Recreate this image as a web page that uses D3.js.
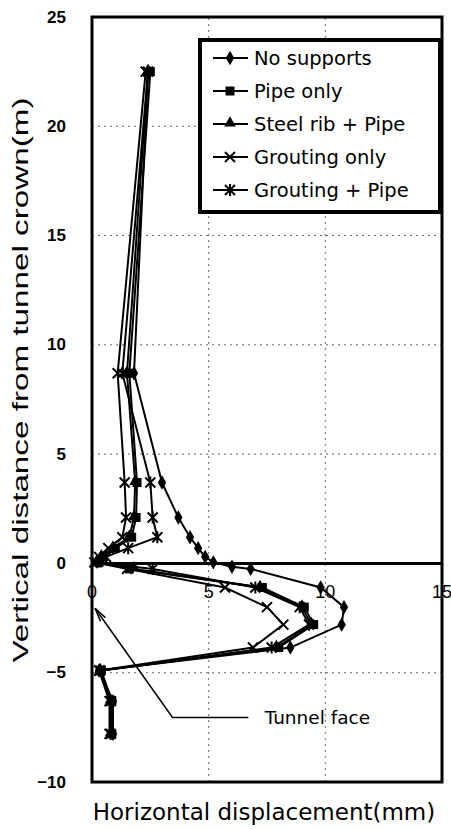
<!DOCTYPE html>
<html>
<head>
<meta charset="utf-8">
<script src="https://cdn.jsdelivr.net/npm/d3@7"></script>
<style>
  body { margin: 0; background: #fff; }
  svg { display: block; }
</style>
</head>
<body>
<div id="chart"></div>
<script>
// measurement depths (m from tunnel crown), shared by all series
let depth = [22.5, 8.7, 3.7, 2.1, 1.2, 0.7, 0.3, 0.05, -0.15, -0.25, -1.1, -2.0, -2.8, -3.85, -4.9, -6.3, -7.8]

// horizontal displacement (mm) per series, null = not measured
let noSupports   = [2.4, 1.8, 3.0, 3.7, 4.2, 4.55, 4.85, 5.2, 6.0, 6.8, 9.8, 10.8, 10.7, 8.5, 0.3, 0.9, 0.9]
let pipeOnly     = [2.5, 1.6, 1.93, 1.89, 1.7, 1.0, 0.5, 0.3, null, 1.6, 7.3, 9.1, 9.5, 8.0, 0.4, 0.85, 0.85]
let steelRibPipe = [2.4, 1.5, 1.85, 1.8, 1.6, 0.9, 0.4, 0.2, null, 1.8, 7.2, 9.0, 9.4, 7.9, 0.35, 0.8, 0.8]
let groutingOnly = [2.3, 1.1, 1.4, 1.46, 1.3, 0.7, 0.3, 0.1, null, 1.5, 5.7, 7.5, 8.2, 6.9, 0.3, 0.75, 0.75]
let groutingPipe = [2.4, 1.3, 2.5, 2.6, 2.8, 1.55, 0.6, 0.2, null, 2.6, 7.0, 8.9, 9.3, 7.7, 0.35, 0.8, 0.8]

let seriesNames = ['No supports', 'Pipe only', 'Steel rib + Pipe', 'Grouting only', 'Grouting + Pipe']
let seriesValues = [noSupports, pipeOnly, steelRibPipe, groutingOnly, groutingPipe]
let seriesMarkers = ['diamond', 'square', 'triangle', 'cross', 'asterisk']

let xTicks = [0, 5, 10, 15]
let yTicks = [-10, -5, 0, 5, 10, 15, 20, 25]

// tunnel face annotation (data units): arrow tip, elbow, end of leader
let faceArrow = [[0.13, -2.05], [3.45, -7.05], [6.7, -7.05]]
let faceLabel = 'Tunnel face'

let width = 451,
    height = 829

let svg = d3.select('#chart').append('svg')
    .attr('width', width)
    .attr('height', height)
    .style('background', '#fff')

let x = d3.scaleLinear().domain([0, 15]).range([92, 442])
let y = d3.scaleLinear().domain([-10, 25]).range([782, 17])

// dotted grid
svg.append('g').selectAll('line')
    .data(yTicks.filter(function(d){ return d != 0 && d != 25 && d != -10 }))
    .enter().append('line')
    .attr('x1', x(0)).attr('x2', x(15))
    .attr('y1', function(d){ return y(d) }).attr('y2', function(d){ return y(d) })
    .attr('stroke', '#666').attr('stroke-width', 1).attr('stroke-dasharray', '2,4')
svg.append('g').selectAll('line')
    .data([5, 10])
    .enter().append('line')
    .attr('y1', y(-10)).attr('y2', y(25))
    .attr('x1', function(d){ return x(d) }).attr('x2', function(d){ return x(d) })
    .attr('stroke', '#666').attr('stroke-width', 1).attr('stroke-dasharray', '2,4')

// y axis labels
svg.append('g').selectAll('text')
    .data(yTicks)
    .enter().append('text')
    .attr('x', 66)
    .attr('y', function(d){ return y(d) })
    .attr('text-anchor', 'end')
    .attr('dominant-baseline', 'central')
    .style('font-family', 'Liberation Sans, Arial, sans-serif')
    .style('font-size', '17px')
    .style('font-weight', 'bold')
    .text(function(d){ return d < 0 ? '\u2212' + Math.abs(d) : d })

// x tick labels sit inside the plot, under the zero line
svg.append('g').selectAll('text')
    .data(xTicks)
    .enter().append('text')
    .attr('x', function(d){ return x(d) })
    .attr('y', y(0) + 29)
    .attr('text-anchor', 'middle')
    .attr('dominant-baseline', 'central')
    .style('font-family', 'Liberation Sans, Arial, sans-serif')
    .style('font-size', '18px')
    .text(function(d){ return d })

// zero line
svg.append('line')
    .attr('x1', x(0)).attr('x2', x(15))
    .attr('y1', y(0)).attr('y2', y(0))
    .attr('stroke', '#000').attr('stroke-width', 3)

// marker shapes
function drawMarker(g, type, cx, cy) {
    if (type == 'diamond') {
        g.append('path').attr('d', d3.symbol().type(d3.symbolDiamond).size(60)())
            .attr('transform', 'translate(' + cx + ',' + cy + ')').attr('fill', '#000')
    } else if (type == 'square') {
        g.append('rect').attr('x', cx - 4.5).attr('y', cy - 4.5).attr('width', 9).attr('height', 9).attr('fill', '#000')
    } else if (type == 'triangle') {
        g.append('path').attr('d', d3.symbol().type(d3.symbolTriangle).size(60)())
            .attr('transform', 'translate(' + cx + ',' + (cy - 1) + ')').attr('fill', '#000')
    } else {
        let s = 5
        g.append('path')
            .attr('d', 'M' + (cx - s) + ',' + (cy - s) + 'L' + (cx + s) + ',' + (cy + s) +
                       'M' + (cx - s) + ',' + (cy + s) + 'L' + (cx + s) + ',' + (cy - s) +
                       (type == 'asterisk' ? 'M' + cx + ',' + (cy - s - 1) + 'L' + cx + ',' + (cy + s + 1) : ''))
            .attr('stroke', '#000').attr('stroke-width', 2).attr('fill', 'none')
    }
}

let line = d3.line()
    .x(function(d){ return x(d[0]) })
    .y(function(d){ return y(d[1]) })

seriesValues.forEach(function(vals, i){
    let pts = []
    vals.forEach(function(v, j){ if (v != null) pts.push([v, depth[j]]) })
    let g = svg.append('g')
    g.append('path')
        .attr('d', line(pts))
        .attr('fill', 'none')
        .attr('stroke', '#000')
        .attr('stroke-width', 2)
    pts.forEach(function(p){ drawMarker(g, seriesMarkers[i], x(p[0]), y(p[1])) })
})

// plot frame
svg.append('rect')
    .attr('x', x(0)).attr('y', y(25))
    .attr('width', x(15) - x(0)).attr('height', y(-10) - y(25))
    .attr('fill', 'none').attr('stroke', '#000').attr('stroke-width', 3)

// tunnel face annotation
svg.append('path')
    .attr('d', line(faceArrow))
    .attr('fill', 'none').attr('stroke', '#000').attr('stroke-width', 1.5)
let tip = faceArrow[0], elbow = faceArrow[1]
let ang = Math.atan2(y(elbow[1]) - y(tip[1]), x(elbow[0]) - x(tip[0]))
let ah = 14, aw = 0.22
svg.append('path')
    .attr('d', 'M' + (x(tip[0]) + ah * Math.cos(ang - aw)) + ',' + (y(tip[1]) + ah * Math.sin(ang - aw)) +
               'L' + x(tip[0]) + ',' + y(tip[1]) +
               'L' + (x(tip[0]) + ah * Math.cos(ang + aw)) + ',' + (y(tip[1]) + ah * Math.sin(ang + aw)))
    .attr('fill', 'none').attr('stroke', '#000').attr('stroke-width', 1.5)
svg.append('text')
    .attr('x', x(7.4)).attr('y', y(-7.05))
    .attr('dominant-baseline', 'central')
    .style('font-family', 'DejaVu Sans, sans-serif')
    .style('font-size', '18.5px')
    .text(faceLabel)

// legend
let legend = svg.append('g')
legend.append('rect')
    .attr('x', 200).attr('y', 40).attr('width', 240).attr('height', 172)
    .attr('fill', '#fff').attr('stroke', '#000').attr('stroke-width', 4)
seriesNames.forEach(function(name, i){
    let ly = 58 + i * 33
    legend.append('line')
        .attr('x1', 213).attr('x2', 248).attr('y1', ly).attr('y2', ly)
        .attr('stroke', '#000').attr('stroke-width', 2)
    drawMarker(legend, seriesMarkers[i], 230, ly)
    legend.append('text')
        .attr('x', 254).attr('y', ly)
        .attr('dominant-baseline', 'central')
        .style('font-family', 'DejaVu Sans, sans-serif')
        .style('font-size', '19.5px')
        .text(name)
})

// axis titles
svg.append('text')
    .attr('x', 264).attr('y', 812)
    .attr('text-anchor', 'middle')
    .attr('dominant-baseline', 'central')
    .style('font-family', 'DejaVu Sans, sans-serif')
    .style('font-size', '23px')
    .text('Horizontal displacement(mm)')

svg.append('text')
    .attr('transform', 'translate(20,380) rotate(-90)')
    .attr('text-anchor', 'middle')
    .attr('dominant-baseline', 'central')
    .attr('textLength', 565)
    .attr('lengthAdjust', 'spacingAndGlyphs')
    .style('font-family', 'Liberation Sans, Arial, sans-serif')
    .style('font-size', '22px')
    .text('Vertical distance from tunnel crown(m)')
</script>
</body>
</html>
